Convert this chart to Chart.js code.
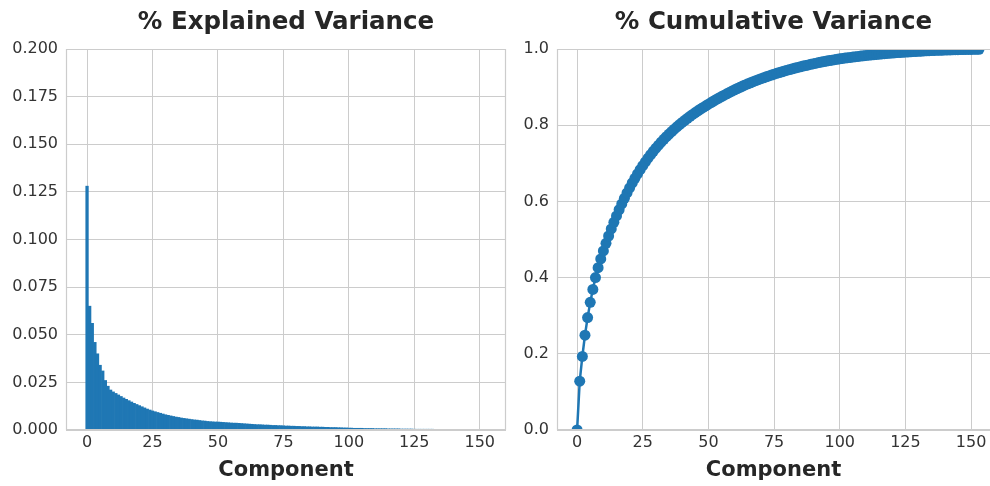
<!DOCTYPE html>
<html><head><meta charset="utf-8">
<script src="https://cdn.jsdelivr.net/npm/chart.js@4.4.0/dist/chart.umd.min.js"></script>
<style>
html,body{margin:0;padding:0;background:#fff;overflow:hidden;width:990px;height:486px;position:relative;}
#c1{position:absolute;left:0;top:0;}
#c2{position:absolute;left:510px;top:0;}
</style></head><body>
<canvas id="c1" width="520" height="486"></canvas>
<canvas id="c2" width="480" height="486"></canvas>
<script>
// % explained variance per component (components 0..152)
const explainedVariance = [
  0.128, 0.065, 0.056, 0.046, 0.040, 0.034, 0.031, 0.026, 0.023, 0.021,
  0.0200, 0.0192, 0.0184, 0.0176, 0.0168, 0.0161, 0.0154, 0.0147, 0.0140, 0.0134, 0.0128, 0.0122, 0.0116, 0.0110, 0.0105,
  0.0100, 0.0096, 0.0092, 0.0088, 0.0084, 0.0080, 0.0077, 0.0074, 0.0071, 0.0068, 0.0066, 0.0063, 0.0061, 0.0059, 0.0057, 0.0055, 0.0053, 0.0052, 0.0050, 0.0048, 0.0047, 0.0045, 0.0044, 0.0043, 0.0042,
  0.0042, 0.0041, 0.0040, 0.0039, 0.0038, 0.0037, 0.0036, 0.0036, 0.0035, 0.0034, 0.0033, 0.0032, 0.0031, 0.0030, 0.0029, 0.0028, 0.0028, 0.0027, 0.0026, 0.0026, 0.0025, 0.0024, 0.0024, 0.0023, 0.0023,
  0.0022, 0.0021, 0.0021, 0.0020, 0.0020, 0.0019, 0.0019, 0.0018, 0.0018, 0.0017, 0.0017, 0.0016, 0.0016, 0.0016, 0.0015, 0.0015, 0.0014, 0.0014, 0.0013, 0.0013, 0.0013, 0.0012, 0.0012, 0.0011, 0.0011,
  0.0010, 0.0010, 0.0009, 0.0009, 0.0009, 0.0009, 0.0008, 0.0008, 0.0008, 0.0008,
  0.0007, 0.0007, 0.0007, 0.0007, 0.0007, 0.0006, 0.0006, 0.0006, 0.0006, 0.0006, 0.0005, 0.0005, 0.0005, 0.0005, 0.0005,
  0.0004, 0.0004, 0.0004, 0.0004, 0.0004, 0.0004, 0.0004, 0.0004, 0.0003, 0.0003, 0.0003, 0.0003, 0.0003, 0.0003, 0.0003,
  0.0002, 0.0002, 0.0002, 0.0002, 0.0002, 0.0002, 0.0002, 0.0001, 0.0001, 0.0001, 0.0001, 0.0001, 0.0001
];
const componentTicks = [0, 25, 50, 75, 100, 125, 150];
const explainedTicks = [0, 0.025, 0.05, 0.075, 0.1, 0.125, 0.15, 0.175, 0.2];
const cumulativeTicks = [0, 0.2, 0.4, 0.6, 0.8, 1.0];
const leftTitle = '% Explained Variance';
const rightTitle = '% Cumulative Variance';
const xTitle = 'Component';

// cumulative variance: starts at 0, then running total of the explained variance
const cumulativeVariance = [0];
explainedVariance.forEach(v => cumulativeVariance.push(cumulativeVariance[cumulativeVariance.length - 1] + v));

const BLUE = '#1f77b4';
const GRID = '#cccccc';
const FONT = 'DejaVu Sans';

function framePlugin(drawRight) {
  return {
    id: 'frame',
    afterDatasetsDraw(chart) {
      const {ctx, chartArea: a} = chart;
      const l = Math.round(a.left) + 0.5, t = Math.round(a.top) + 0.5;
      const r = Math.round(a.right) - 0.5, b = Math.round(a.bottom) - 0.5;
      ctx.save();
      ctx.strokeStyle = GRID;
      ctx.lineWidth = 1.2;
      ctx.beginPath();
      if (drawRight) {
        ctx.moveTo(r, t); ctx.lineTo(l, t); ctx.lineTo(l, b); ctx.lineTo(r, b); ctx.closePath();
      } else {
        ctx.moveTo(a.right, t); ctx.lineTo(l, t); ctx.lineTo(l, b); ctx.lineTo(a.right, b);
      }
      ctx.stroke();
      ctx.restore();
    }
  };
}

function xScale(min, max) {
  return {
    type: 'linear', min, max, offset: false,
    afterBuildTicks: s => { s.ticks = componentTicks.map(v => ({value: v})); },
    afterFit: s => { s.height = 56; s.paddingLeft = 0; s.paddingRight = 0; },
    grid: {color: GRID, drawTicks: false, lineWidth: 1, offset: false},
    border: {display: false},
    ticks: {padding: 3, color: '#333333', font: {family: FONT, size: 16}},
    title: {display: true, text: xTitle, color: '#262626',
      font: {family: FONT, size: 21, weight: 'bold', lineHeight: 1.2}, padding: {top: 0, bottom: 2.5}}
  };
}
function yScale(max, ticks, width, digits) {
  return {
    min: 0, max,
    afterBuildTicks: s => { s.ticks = ticks.map(v => ({value: v})); },
    afterFit: s => { s.width = width; },
    grid: {color: GRID, drawTicks: false, lineWidth: 1},
    border: {display: false},
    ticks: {padding: 8, color: '#333333', font: {family: FONT, size: 16}, callback: v => Number(v).toFixed(digits)}
  };
}
function titleOpts(text) {
  return {display: true, fullSize: false, text, color: '#262626',
    font: {family: FONT, size: 24.5, weight: 'bold', lineHeight: 1.2},
    padding: {top: 7.5, bottom: 12.1}};
}

new Chart(document.getElementById('c1'), {
  type: 'bar',
  data: {datasets: [{
    data: explainedVariance.map((v, i) => ({x: i, y: v})),
    backgroundColor: BLUE, borderWidth: 0, barPercentage: 1.0, categoryPercentage: 1.0
  }]},
  options: {
    responsive: false, animation: false, events: [],
    layout: {autoPadding: false, padding: {left: 0, right: 14, top: 0, bottom: 0}},
    plugins: {legend: {display: false}, tooltip: {enabled: false}, title: titleOpts(leftTitle)},
    scales: {x: xScale(-8.04, 160.04), y: yScale(0.2, explainedTicks, 66, 3)}
  },
  plugins: [framePlugin(true)]
});

new Chart(document.getElementById('c2'), {
  type: 'line',
  data: {datasets: [{
    data: cumulativeVariance.map((v, i) => ({x: i, y: v})),
    borderColor: BLUE, backgroundColor: BLUE, borderWidth: 2.5,
    pointRadius: 5.5, pointBorderWidth: 0, pointBackgroundColor: BLUE,
    tension: 0, clip: 0
  }]},
  options: {
    responsive: false, animation: false, events: [],
    layout: {autoPadding: false, padding: {left: 0, right: 0, top: 0, bottom: 0}},
    plugins: {legend: {display: false}, tooltip: {enabled: false}, title: titleOpts(rightTitle)},
    scales: {x: xScale(-7.65, 157.2), y: yScale(1.0, cumulativeTicks, 47, 1)}
  },
  plugins: [framePlugin(false)]
});
</script>
</body></html>
